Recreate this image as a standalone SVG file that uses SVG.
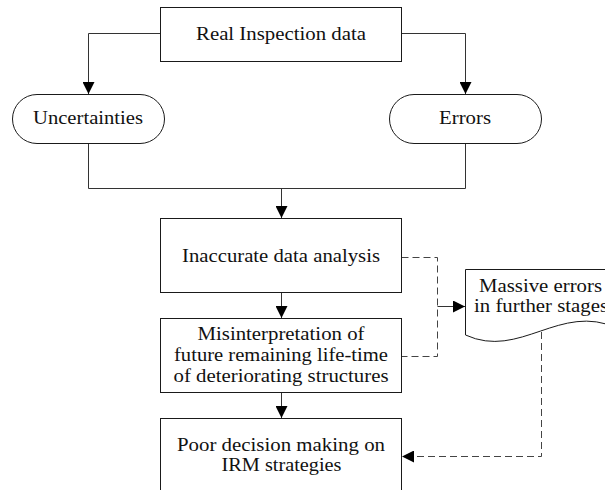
<svg xmlns="http://www.w3.org/2000/svg" width="605" height="490" viewBox="0 0 605 490">
<defs>
<style>
.box{fill:#fff;stroke:#1a1a1a;stroke-width:1}
.ln{fill:none;stroke:#333;stroke-width:1}
.dash{fill:none;stroke:#444;stroke-width:1;stroke-dasharray:7,4}
.t{font-family:"Liberation Serif","Times New Roman",serif;font-size:18px;fill:#111;text-anchor:middle}
</style>
<marker id="ah" viewBox="0 0 12 12" markerWidth="12" markerHeight="12" refX="12" refY="6" orient="auto" markerUnits="userSpaceOnUse">
<path d="M0,0 L12,6 L0,12 z" fill="#000"/>
</marker>
</defs>
<rect width="605" height="490" fill="#fff"/>
<g id="connectors">
<path class="ln" d="M160.5,33.5 H88.5 V94" marker-end="url(#ah)"/>
<path class="ln" d="M401.5,33.5 H465.5 V94" marker-end="url(#ah)"/>
<path class="ln" d="M88.5,144 V188.5 H465.5 V144"/>
<path class="ln" d="M281.5,188.5 V218" marker-end="url(#ah)"/>
<path class="ln" d="M281.5,293 V318" marker-end="url(#ah)"/>
<path class="ln" d="M281.5,393 V418" marker-end="url(#ah)"/>
<path class="dash" d="M401.5,257.5 H437.5 V356.5 H401.5"/>
<path class="ln" d="M437.5,306.5 H465" marker-end="url(#ah)"/>
<path class="dash" d="M541.5,332 V456.5 H402" marker-end="url(#ah)"/>
</g>
<g id="real-inspection">
<rect class="box" x="160.5" y="7.5" width="241" height="54"/>
<text class="t" x="281" y="39.5" textLength="170" lengthAdjust="spacingAndGlyphs">Real Inspection data</text>
</g>
<g id="uncertainties">
<rect class="box" x="12.5" y="94.5" width="152" height="49" rx="24.5"/>
<text class="t" x="88" y="123.5" textLength="110" lengthAdjust="spacingAndGlyphs">Uncertainties</text>
</g>
<g id="errors">
<rect class="box" x="389.5" y="94.5" width="152" height="49" rx="24.5"/>
<text class="t" x="465" y="123.5" textLength="52" lengthAdjust="spacingAndGlyphs">Errors</text>
</g>
<g id="inaccurate">
<rect class="box" x="160.5" y="218.5" width="241" height="74"/>
<text class="t" x="281" y="262" textLength="198" lengthAdjust="spacingAndGlyphs">Inaccurate data analysis</text>
</g>
<g id="misinterpretation">
<rect class="box" x="160.5" y="318.5" width="241" height="74"/>
<text class="t" x="281" y="340" textLength="167" lengthAdjust="spacingAndGlyphs">Misinterpretation of</text>
<text class="t" x="281" y="361" textLength="214" lengthAdjust="spacingAndGlyphs">future remaining life-time</text>
<text class="t" x="281" y="382" textLength="215" lengthAdjust="spacingAndGlyphs">of deteriorating structures</text>
</g>
<g id="poor-decision">
<rect class="box" x="160.5" y="418.5" width="241" height="80"/>
<text class="t" x="281" y="451" textLength="208" lengthAdjust="spacingAndGlyphs">Poor decision making on</text>
<text class="t" x="281.5" y="471" textLength="120" lengthAdjust="spacingAndGlyphs">IRM strategies</text>
</g>
<g id="massive-errors">
<path class="box" d="M465.5,269.5 H617 V328 C560,302 520,360 465.5,335 Z"/>
<text class="t" x="540.5" y="291.5" textLength="123" lengthAdjust="spacingAndGlyphs">Massive errors</text>
<text class="t" x="541" y="312" textLength="134" lengthAdjust="spacingAndGlyphs">in further stages</text>
</g>
</svg>
